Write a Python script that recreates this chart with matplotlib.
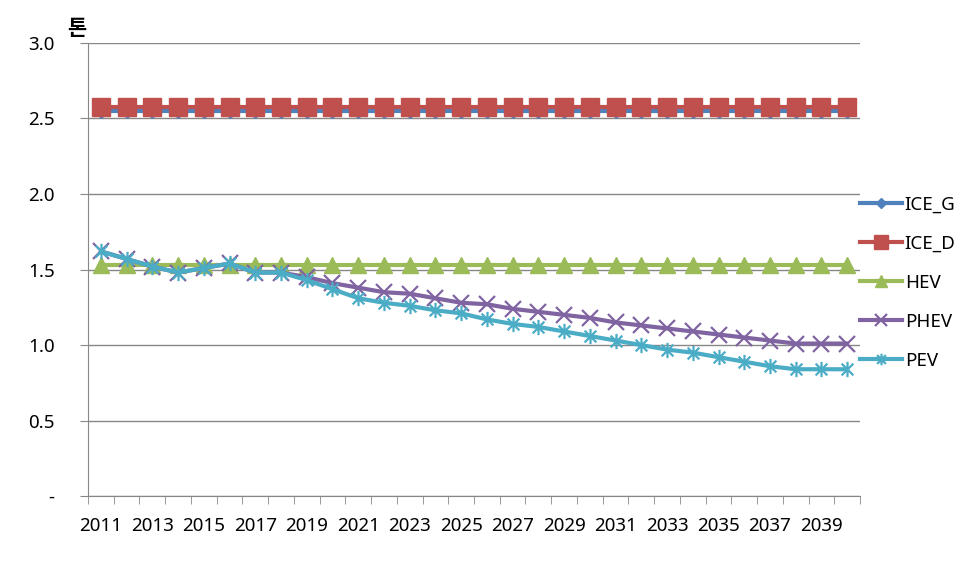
import numpy as np
import matplotlib
matplotlib.use("Agg")
import matplotlib.pyplot as plt
from matplotlib.path import Path
from matplotlib.ticker import FixedLocator, FuncFormatter

plt.rcParams['font.family'] = ['Noto Sans', 'Noto Sans CJK KR', 'DejaVu Sans']

years = list(range(2011, 2041))
ice_g = [2.55] * 30
ice_d = [2.575] * 30
hev = [1.53] * 30
phev = [1.62, 1.57, 1.52, 1.48, 1.51, 1.54, 1.48, 1.48, 1.45, 1.41,
        1.38, 1.35, 1.34, 1.31, 1.28, 1.27, 1.24, 1.22, 1.20, 1.18,
        1.15, 1.13, 1.11, 1.09, 1.07, 1.05, 1.03, 1.01, 1.01, 1.01]
pev = [1.62, 1.57, 1.52, 1.48, 1.51, 1.54, 1.48, 1.48, 1.43, 1.37,
       1.31, 1.28, 1.26, 1.23, 1.21, 1.17, 1.14, 1.12, 1.09, 1.06,
       1.03, 1.00, 0.97, 0.95, 0.92, 0.89, 0.86, 0.84, 0.84, 0.84]

# excel style star: X plus vertical bar
star = Path([(-1, -1), (1, 1), (-1, 1), (1, -1), (0, -1.3), (0, 1.3)],
            [Path.MOVETO, Path.LINETO, Path.MOVETO, Path.LINETO, Path.MOVETO, Path.LINETO])

fig = plt.figure(figsize=(9.8, 5.69), dpi=100)
ax = fig.add_axes([0.0898, 0.128, 0.7878, 0.7966])
x = np.arange(len(years))

ax.plot(x, ice_g, color='#4F81BD', lw=3, marker='D', ms=7, label='ICE_G', zorder=3)
ax.plot(x, ice_d, color='#C0504D', lw=3, marker='s', ms=12.5, label='ICE_D', zorder=3)
ax.plot(x, hev, color='#9BBB59', lw=3, marker='^', ms=11, label='HEV', zorder=3)
ax.plot(x, phev, color='#8064A2', lw=3, marker='x', ms=11, mew=1.6, label='PHEV', zorder=3)
ax.plot(x, pev, color='#4BACC6', lw=3, marker=star, ms=11, mew=1.6, label='PEV', zorder=3)

ax.set_xlim(-0.5, len(years) - 0.5)
ax.set_ylim(0, 3.0)
ax.set_yticks([0, 0.5, 1.0, 1.5, 2.0, 2.5, 3.0])
ax.yaxis.set_major_formatter(FuncFormatter(lambda v, p: '-' if v == 0 else f'{v:.1f}'))
ax.set_xticks(x[::2])
ax.set_xticklabels([str(y) for y in years[::2]])
ax.xaxis.set_minor_locator(FixedLocator(np.arange(-0.5, len(years), 1)))
ax.tick_params(axis='x', which='major', length=0, labelsize=13.5, pad=15)
ax.tick_params(axis='x', which='minor', length=6, color='#878787', direction='out')
ax.tick_params(axis='y', length=6, color='#878787', labelsize=13.5, pad=18)

ax.grid(axis='y', color='#878787', lw=1)
ax.set_axisbelow(True)
for s in ['top', 'right']:
    ax.spines[s].set_visible(False)
for s in ['left', 'bottom']:
    ax.spines[s].set_color('#878787')

fig.text(0.069, 0.95, '톤', fontsize=15, fontweight='bold', ha='left', va='center',
         family=['Noto Sans CJK KR', 'DejaVu Sans'])

ax.legend(loc='center left', bbox_to_anchor=(0.86, 0.503), bbox_transform=fig.transFigure,
          frameon=False, fontsize=13.5, handlelength=2.25, handletextpad=0.15,
          labelspacing=1.12, markerscale=0.75)

fig.savefig('out.png', dpi=100)
